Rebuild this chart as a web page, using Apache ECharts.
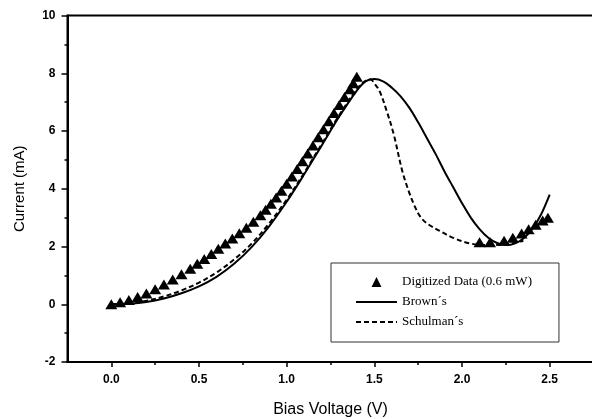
<!DOCTYPE html>
<html>
<head>
<meta charset="utf-8">
<script src="https://cdn.jsdelivr.net/npm/echarts@6/dist/echarts.min.js"></script>
<style>
  html, body { margin: 0; padding: 0; background: #fff; }
  #chart { width: 592px; height: 419px; }
</style>
</head>
<body>
<div id="chart"></div>
<script>
var dataX = [0.00, 0.05, 0.10, 0.15, 0.20, 0.25, 0.30, 0.35, 0.40, 0.45, 0.49, 0.53, 0.57, 0.61, 0.65, 0.69, 0.73, 0.77, 0.81, 0.85,
  0.88, 0.91, 0.94, 0.97, 1.00, 1.03, 1.06, 1.09, 1.12, 1.15, 1.18, 1.21, 1.24, 1.27, 1.30, 1.33, 1.36, 1.38, 1.40,
  2.10, 2.16, 2.24, 2.29, 2.34, 2.38, 2.42, 2.46, 2.49]
var dataY = [0.00, 0.07, 0.15, 0.25, 0.37, 0.52, 0.68, 0.86, 1.04, 1.23, 1.40, 1.57, 1.74, 1.92, 2.10, 2.28, 2.46, 2.65, 2.86, 3.08,
  3.27, 3.48, 3.70, 3.93, 4.17, 4.42, 4.68, 4.95, 5.22, 5.50, 5.78, 6.06, 6.34, 6.62, 6.90, 7.18, 7.45, 7.65, 7.88,
  2.15, 2.15, 2.20, 2.30, 2.45, 2.60, 2.75, 2.90, 3.00]

// Brown's model (solid)
var brownX = [0, 0.1, 0.2, 0.3, 0.4, 0.5, 0.6, 0.7, 0.8, 0.9, 1.0, 1.1, 1.2, 1.3, 1.4, 1.45, 1.5, 1.55, 1.6, 1.65, 1.7, 1.75, 1.8, 1.85, 1.9, 1.95,
  2.0, 2.05, 2.1, 2.15, 2.2, 2.25, 2.3, 2.35, 2.4, 2.45, 2.5]
var brownY = [0, 0.02, 0.08, 0.2, 0.38, 0.62, 0.95, 1.4, 1.98, 2.7, 3.55, 4.5, 5.5, 6.5, 7.4, 7.72, 7.8, 7.72, 7.5, 7.2, 6.8, 6.3, 5.75, 5.2, 4.6, 4.05,
  3.5, 3.0, 2.6, 2.3, 2.12, 2.05, 2.1, 2.28, 2.6, 3.1, 3.8]

// Schulman's model (dashed)
var schulX = [0, 0.1, 0.2, 0.3, 0.4, 0.5, 0.6, 0.7, 0.8, 0.9, 1.0, 1.1, 1.2, 1.3, 1.4, 1.45, 1.48, 1.5, 1.53, 1.57, 1.61, 1.66, 1.7, 1.73, 1.76,
  1.8, 1.87, 1.95, 2.05, 2.15, 2.25, 2.35]
var schulY = [0, 0.03, 0.12, 0.27, 0.48, 0.75, 1.1, 1.55, 2.1, 2.8, 3.62, 4.55, 5.55, 6.55, 7.45, 7.74, 7.78, 7.65, 7.38, 6.7, 5.9, 4.6, 3.85, 3.4, 3.05,
  2.8, 2.55, 2.3, 2.1, 2.05, 2.07, 2.2]

var xMajor = [0, 0.5, 1.0, 1.5, 2.0, 2.5]
var xMinor = [0.25, 0.75, 1.25, 1.75, 2.25]

function pairs(xs, ys) {
  var out = []
  for (var i = 0; i < xs.length; i++) out.push([xs[i], ys[i]])
  return out
}

var chart = echarts.init(document.getElementById('chart'))
var labelFont = { color: '#000', fontFamily: 'Liberation Sans', fontWeight: 'bold', fontSize: 12 }
var noSymbol = { color: 'rgba(0,0,0,0)', borderWidth: 0 }

chart.setOption({
  animation: false,
  grid: {
    left: 67.5, top: 15.5, width: 526, height: 346.5,
    outerBoundsMode: 'none', containLabel: false,
    show: true, borderColor: '#000', borderWidth: 2
  },
  legend: {
    orient: 'vertical',
    left: 331, top: 263,
    padding: [12, 27, 13, 24],
    itemWidth: 41, itemHeight: 10, itemGap: 6,
    symbolKeepAspect: true,
    borderColor: '#333', borderWidth: 1,
    textStyle: { fontFamily: 'Liberation Serif', fontSize: 13, color: '#000', lineHeight: 14 },
    data: [
      { name: 'Digitized Data (0.6 mW)', icon: 'path://M10,0 L20,20 L0,20 Z M-25,10 L-25,10.01 M45,10 L45,10.01', itemStyle: { opacity: 1 } },
      { name: 'Brown´s', itemStyle: noSymbol },
      { name: 'Schulman´s', itemStyle: noSymbol }
    ]
  },
  xAxis: [
    {
      type: 'value', min: -0.25, max: 2.75,
      name: 'Bias Voltage (V)', nameLocation: 'middle', nameGap: 40,
      nameTextStyle: { fontFamily: 'Liberation Sans', fontSize: 16, color: '#000' },
      axisLine: { onZero: false, lineStyle: { color: '#000', width: 2 } },
      axisTick: { inside: false, length: 5, lineStyle: { color: '#000', width: 1.5 }, customValues: xMajor },
      axisLabel: Object.assign({ margin: 12, customValues: xMajor, formatter: function (v) { return v.toFixed(1) } }, labelFont),
      splitLine: { show: false }
    },
    {
      type: 'value', min: -0.25, max: 2.75, position: 'bottom',
      axisLine: { show: false, onZero: false },
      axisTick: { length: 3, lineStyle: { color: '#000', width: 1.5 }, customValues: xMinor },
      axisLabel: { show: false },
      splitLine: { show: false }
    }
  ],
  yAxis: {
    type: 'value', min: -2, max: 10, interval: 2,
    name: 'Current (mA)', nameLocation: 'middle', nameGap: 40,
    nameTextStyle: { fontFamily: 'Liberation Sans', fontSize: 15, color: '#000' },
    axisLine: { show: true, onZero: false, lineStyle: { color: '#000', width: 2 } },
    axisTick: { show: true, length: 6, lineStyle: { color: '#000', width: 1.5 } },
    minorTick: { show: true, splitNumber: 2, length: 3, lineStyle: { color: '#000', width: 1.5 } },
    axisLabel: Object.assign({ margin: 12 }, labelFont),
    splitLine: { show: false }
  },
  series: [
    {
      name: 'Brown´s', type: 'line', smooth: 0.35, showSymbol: false, symbol: 'none',
      lineStyle: { color: '#000', width: 2 },
      data: pairs(brownX, brownY), z: 2
    },
    {
      name: 'Schulman´s', type: 'line', smooth: 0.35, showSymbol: false, symbol: 'none',
      lineStyle: { color: '#000', width: 2, type: [5, 3] },
      data: pairs(schulX, schulY), z: 2
    },
    {
      name: 'Digitized Data (0.6 mW)', type: 'scatter', symbol: 'triangle', symbolSize: [12, 10],
      itemStyle: { color: '#000', opacity: 1 },
      data: pairs(dataX, dataY), z: 3
    }
  ]
})
</script>
</body>
</html>
